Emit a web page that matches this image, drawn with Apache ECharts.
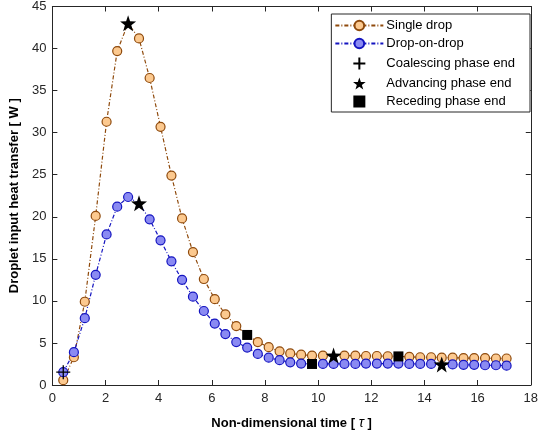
<!DOCTYPE html>
<html>
<head>
<meta charset="utf-8">
<script src="https://cdn.jsdelivr.net/npm/echarts@6/dist/echarts.min.js"></script>
<style>
  html, body { margin: 0; padding: 0; background: #fff; }
  #chart { width: 541px; height: 435px; }
</style>
</head>
<body>
<div id="chart"></div>
<script>
// Non-dimensional time samples shared by both series
const tau = [0.41, 0.81, 1.22, 1.63, 2.04, 2.44, 2.85, 3.26, 3.66, 4.07,
             4.48, 4.88, 5.29, 5.70, 6.11, 6.51, 6.92, 7.33, 7.73, 8.14,
             8.55, 8.95, 9.36, 9.77, 10.18, 10.58, 10.99, 11.40, 11.80, 12.21,
             12.62, 13.02, 13.43, 13.84, 14.25, 14.65, 15.06, 15.47, 15.87, 16.28,
             16.69, 17.09];

// Heat transfer into the droplet [W]
const singleDrop = [0.57, 3.3, 9.9, 20.1, 31.3, 39.7, 43.0, 41.2, 36.5, 30.7,
                    24.9, 19.8, 15.8, 12.6, 10.2, 8.4, 7.0, 5.95, 5.1, 4.5,
                    4.0, 3.75, 3.6, 3.5, 3.5, 3.5, 3.5, 3.5, 3.45, 3.45,
                    3.42, 3.4, 3.35, 3.3, 3.3, 3.25, 3.25, 3.2, 3.2, 3.2,
                    3.15, 3.15];
const dropOnDrop = [1.52, 3.9, 7.95, 13.1, 17.9, 21.2, 22.35, 21.6, 19.7, 17.2,
                    14.7, 12.5, 10.5, 8.8, 7.3, 6.06, 5.1, 4.45, 3.7, 3.25,
                    2.95, 2.7, 2.55, 2.5, 2.5, 2.5, 2.5, 2.5, 2.55, 2.55,
                    2.55, 2.55, 2.5, 2.5, 2.5, 2.45, 2.45, 2.4, 2.4, 2.35,
                    2.35, 2.3];

// Sample indices where each spreading phase ends
const coalescingSingle = [];
const coalescingDouble = [0];
const advancingSingle = [6, 25];
const advancingDouble = [7, 35];
const recedingSingle = [17, 31];
const recedingDouble = [23];

const xTicks = [0, 2, 4, 6, 8, 10, 12, 14, 16, 18];
const yTicks = [0, 5, 10, 15, 20, 25, 30, 35, 40, 45];

// samples hidden behind a phase marker carry no circle of their own
const pairs = (vals, covered) => tau.map((t, i) =>
  covered.includes(i) ? { value: [t, vals[i]], symbol: 'none' } : [t, vals[i]]);
const pick = (idxS, idxD) =>
  idxS.map(i => [tau[i], singleDrop[i]]).concat(idxD.map(i => [tau[i], dropOnDrop[i]]));

const FONT = '"Liberation Sans", Arial, sans-serif';
const AX = '#262626';
const STAR = 'path://M0,-10 L2.35,-3.24 L9.51,-3.09 L3.8,1.24 L5.88,8.09 L0,4 L-5.88,8.09 L-3.8,1.24 L-9.51,-3.09 L-2.35,-3.24 Z';
const PLUS = 'path://M0,-10 L0,10 M-10,0 L10,0';
const SQUARE = 'path://M0,0 L10,0 L10,10 L0,10 Z';

const axisCommon = {
  axisLine: { show: true, onZero: false, lineStyle: { color: AX, width: 1 } },
  axisTick: { show: true, inside: true, length: 5, lineStyle: { color: AX } },
  splitLine: { show: false }
};

const chart = echarts.init(document.getElementById('chart'), null, { renderer: 'canvas' });
chart.setOption({
  animation: false,
  backgroundColor: '#fff',
  textStyle: { fontFamily: FONT },
  grid: { left: 50, right: 8, top: 5, bottom: 50, containLabel: false },
  xAxis: [
    Object.assign({
      type: 'value', min: xTicks[0], max: xTicks[xTicks.length - 1], interval: 2,
      position: 'bottom',
      axisLabel: { color: AX, fontSize: 13, fontFamily: FONT, margin: 7 },
      name: 'Non-dimensional time [ {i|τ} ]',
      nameLocation: 'middle', nameGap: 31,
      nameTextStyle: {
        fontSize: 13, fontWeight: 'bold', color: '#000', fontFamily: FONT,
        rich: { i: { fontStyle: 'italic', fontWeight: 'normal', fontSize: 14, fontFamily: FONT, color: '#000' } }
      }
    }, axisCommon),
    Object.assign({
      type: 'value', min: xTicks[0], max: xTicks[xTicks.length - 1], interval: 2,
      position: 'top', axisLabel: { show: false }
    }, axisCommon)
  ],
  yAxis: [
    Object.assign({
      type: 'value', min: yTicks[0], max: yTicks[yTicks.length - 1], interval: 5,
      position: 'left',
      axisLabel: { color: AX, fontSize: 13, fontFamily: FONT, margin: 6 },
      name: 'Droplet input heat transfer [ W ]',
      nameLocation: 'middle', nameGap: 26,
      nameTextStyle: { fontSize: 13, fontWeight: 'bold', color: '#000', fontFamily: FONT }
    }, axisCommon),
    Object.assign({
      type: 'value', min: yTicks[0], max: yTicks[yTicks.length - 1], interval: 5,
      position: 'right', axisLabel: { show: false }
    }, axisCommon)
  ],
  legend: {
    right: 11, top: 14, orient: 'vertical',
    padding: [5, 15, 4, 3], itemGap: 5,
    itemWidth: 48, itemHeight: 12,
    borderColor: AX, borderWidth: 1, backgroundColor: '#fff',
    textStyle: { fontSize: 13, color: '#000', fontFamily: FONT, padding: [0, 0, 0, -2] },
    data: ['Single drop', 'Drop-on-drop', 'Coalescing phase end', 'Advancing phase end', 'Receding phase end']
  },
  series: [
    {
      name: 'Single drop', type: 'line',
      data: pairs(singleDrop, advancingSingle.concat(recedingSingle)),
      symbol: 'circle', symbolSize: 9,
      lineStyle: { color: '#8f4a0c', width: 1.2, type: [4, 2, 1, 2] },
      itemStyle: { color: '#fcc98f', borderColor: '#8f4a0c', borderWidth: 1.2 },
      z: 2
    },
    {
      name: 'Drop-on-drop', type: 'line',
      data: pairs(dropOnDrop, advancingDouble.concat(recedingDouble)),
      symbol: 'circle', symbolSize: 9,
      lineStyle: { color: '#1414c0', width: 1.2, type: [4, 2, 1, 2] },
      itemStyle: { color: '#8a8af2', borderColor: '#1414c0', borderWidth: 1.2 },
      z: 2
    },
    {
      name: 'Coalescing phase end', type: 'scatter',
      data: pick(coalescingSingle, coalescingDouble),
      symbol: PLUS, symbolSize: 14,
      itemStyle: { color: 'none', borderColor: '#000', borderWidth: 1.3, opacity: 1 },
      z: 5
    },
    {
      name: 'Advancing phase end', type: 'scatter',
      data: pick(advancingSingle, advancingDouble),
      symbol: STAR, symbolSize: 16,
      itemStyle: { color: '#000', opacity: 1 },
      z: 5
    },
    {
      name: 'Receding phase end', type: 'scatter',
      data: pick(recedingSingle, recedingDouble),
      symbol: SQUARE, symbolSize: 10,
      itemStyle: { color: '#000', opacity: 1 },
      z: 5
    }
  ]
});
</script>
</body>
</html>
